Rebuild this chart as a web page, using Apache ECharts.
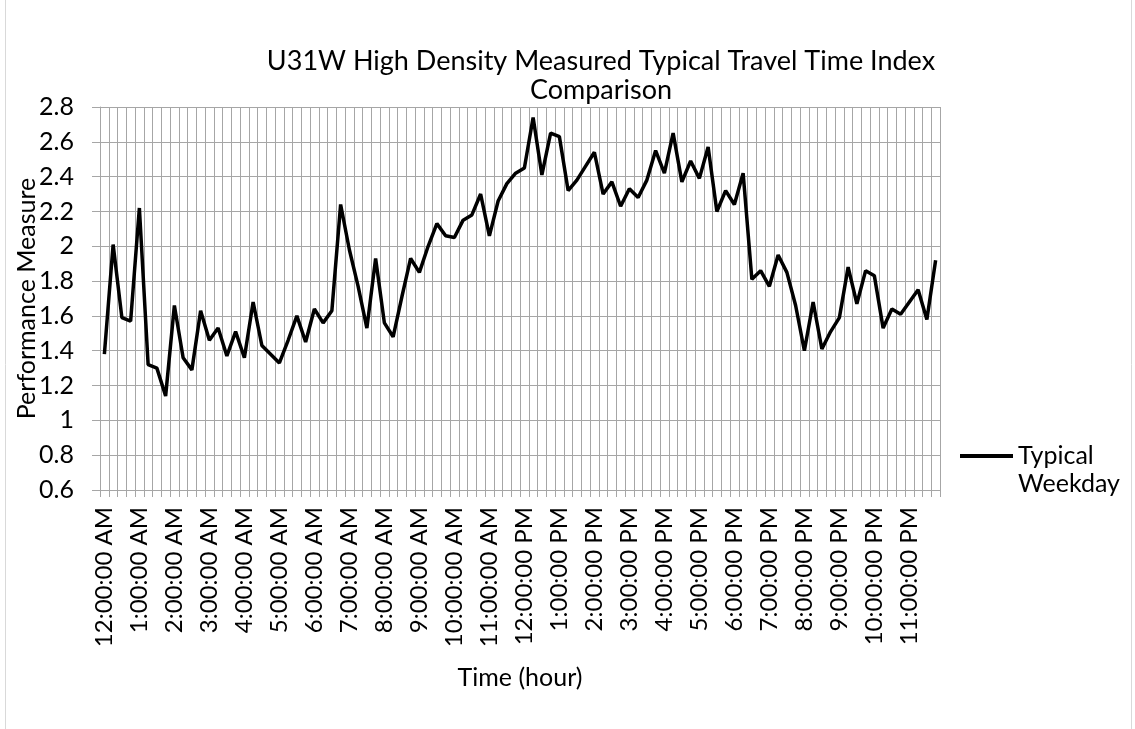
<!DOCTYPE html>
<html>
<head>
<meta charset="utf-8">
<title>U31W Travel Time Index</title>
<script src="https://cdn.jsdelivr.net/npm/echarts@6/dist/echarts.min.js"></script>
<style>
  html, body { margin: 0; padding: 0; background: #fff; }
  #chart { width: 1135px; height: 729px; }
</style>
</head>
<body>
<div id="chart"></div>
<script>
// hour names, one label per hour (the axis shows every 4th quarter-hour)
const hourNames = ['12', '1', '2', '3', '4', '5', '6', '7', '8', '9', '10', '11'];
const quarterMinutes = ['00', '15', '30', '45'];

// typical weekday measured travel time index, 15-minute bins
const typicalWeekday = [
  1.38, 2.01, 1.59, 1.57, 2.22, 1.32, 1.30, 1.14,
  1.66, 1.36, 1.29, 1.63, 1.46, 1.53, 1.37, 1.51,
  1.36, 1.68, 1.43, 1.38, 1.33, 1.46, 1.60, 1.45,
  1.64, 1.56, 1.63, 2.24, 1.98, 1.77, 1.53, 1.93,
  1.56, 1.48, 1.71, 1.93, 1.85, 2.00, 2.13, 2.06,
  2.05, 2.15, 2.18, 2.30, 2.06, 2.26, 2.36, 2.42,
  2.45, 2.74, 2.41, 2.65, 2.63, 2.32, 2.38, 2.46,
  2.54, 2.30, 2.37, 2.23, 2.33, 2.28, 2.38, 2.55,
  2.42, 2.65, 2.37, 2.49, 2.39, 2.57, 2.20, 2.32,
  2.24, 2.42, 1.81, 1.86, 1.77, 1.95, 1.85, 1.66,
  1.40, 1.68, 1.41, 1.51, 1.59, 1.88, 1.67, 1.86,
  1.83, 1.53, 1.64, 1.61, 1.68, 1.75, 1.58, 1.92
];

const yMin = 0.6;
const yMax = 2.8;
const yStep = 0.2;

let timeList = [];
['AM', 'PM'].forEach(half => {
  hourNames.forEach(h => {
    quarterMinutes.forEach(m => {
      timeList.push(h + ':' + m + ':00 ' + half);
    });
  });
});

const gridColor = '#a6a6a6';
const fontFamily = 'Lato, "Open Sans", sans-serif';

let chartDom = document.getElementById('chart');
let myChart = echarts.init(chartDom);

let option = {
  animation: false,
  textStyle: { fontFamily: fontFamily },
  title: {
    text: 'U31W High Density Measured Typical Travel Time Index\nComparison',
    left: 596,
    top: 42,
    textAlign: 'center',
    textStyle: {
      fontFamily: fontFamily,
      fontSize: 27,
      fontWeight: 'normal',
      color: '#000',
      lineHeight: 29
    }
  },
  legend: {
    data: ['Typical Weekday'],
    orient: 'vertical',
    left: 960,
    top: 414,
    padding: 0,
    icon: 'rect',
    itemWidth: 53,
    itemHeight: 4,
    // blank first line keeps "Typical" level with the line sample
    formatter: () => ' \nTypical\nWeekday',
    textStyle: {
      fontFamily: fontFamily,
      fontSize: 25,
      color: '#000',
      lineHeight: 28
    }
  },
  grid: {
    left: 100,
    right: 195,
    top: 107,
    bottom: 239,
    outerBoundsMode: 'none'
  },
  xAxis: {
    type: 'category',
    data: timeList,
    boundaryGap: true,
    name: 'Time (hour)',
    nameLocation: 'middle',
    nameGap: 175,
    nameMoveOverlap: false,
    nameTextStyle: { fontSize: 25, color: '#000', verticalAlign: 'top' },
    axisLine: { show: true, lineStyle: { color: gridColor } },
    axisTick: { show: true, interval: 0, length: 7, lineStyle: { color: gridColor } },
    axisLabel: {
      interval: 3,
      rotate: 90,
      margin: 17,
      fontSize: 24,
      color: '#000'
    },
    splitLine: { show: true, interval: 0, lineStyle: { color: gridColor, width: 1 } }
  },
  yAxis: {
    type: 'value',
    min: yMin,
    max: yMax,
    interval: yStep,
    name: 'Performance Measure',
    nameLocation: 'middle',
    nameRotate: 90,
    nameGap: 73,
    nameMoveOverlap: false,
    nameTextStyle: { fontSize: 25, color: '#000', verticalAlign: 'middle' },
    axisLine: { show: true, lineStyle: { color: gridColor } },
    axisTick: { show: true, length: 8, lineStyle: { color: gridColor } },
    axisLabel: {
      margin: 26,
      fontSize: 25,
      color: '#000',
      formatter: v => String(Math.round(v * 10) / 10)
    },
    splitLine: { show: true, lineStyle: { color: gridColor, width: 1 } }
  },
  graphic: [
    { type: 'line', shape: { x1: 5.5, y1: 0, x2: 5.5, y2: 729 }, style: { stroke: '#d9d9d9', lineWidth: 1 } },
    { type: 'line', shape: { x1: 1131.5, y1: 0, x2: 1131.5, y2: 729 }, style: { stroke: '#d9d9d9', lineWidth: 1 } }
  ],
  series: [
    {
      name: 'Typical Weekday',
      type: 'line',
      data: typicalWeekday,
      showSymbol: false,
      color: '#000',
      lineStyle: { color: '#000', width: 3.5 }
    }
  ]
};

option && myChart.setOption(option);
</script>
</body>
</html>
